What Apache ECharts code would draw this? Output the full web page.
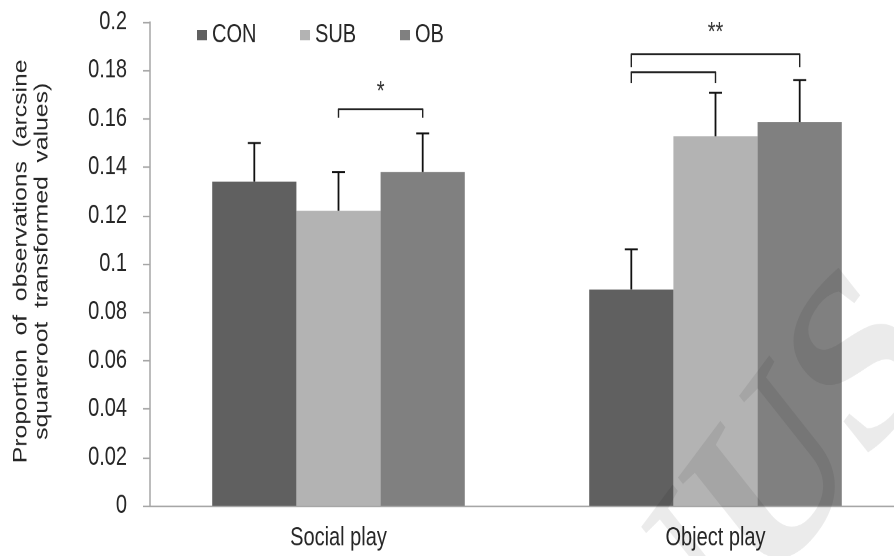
<!DOCTYPE html>
<html>
<head>
<meta charset="utf-8">
<script src="https://cdn.jsdelivr.net/npm/echarts@6/dist/echarts.min.js"></script>
<style>
html,body{margin:0;padding:0;background:#fff;overflow:hidden}
#wrap{width:894px;height:556px;overflow:hidden}
#c{width:894px;height:428px;transform:scaleY(1.3);transform-origin:0 0}
</style>
</head>
<body>
<div id="wrap"><div id="c"></div></div>
<script>
var categories = ['Social play', 'Object play'];
var seriesNames = ['CON', 'SUB', 'OB'];
var conValues = [0.134, 0.0894];
var subValues = [0.122, 0.1528];
var obValues = [0.138, 0.1586];
var conErrors = [0.016, 0.0166];
var subErrors = [0.016, 0.018];
var obErrors = [0.016, 0.0174];
var yTicks = [0, 0.02, 0.04, 0.06, 0.08, 0.1, 0.12, 0.14, 0.16, 0.18, 0.2];
var yTickLabels = ['0', '0.02', '0.04', '0.06', '0.08', '0.1', '0.12', '0.14', '0.16', '0.18', '0.2'];
var yAxisTitle = 'Proportion  of  observations  (arcsine\nsquareroot  transformed  values)';
// brackets: [categoryIndex, fromSeries, toSeries, top, bottom]
var brackets = [[0, 1, 2, 0.164, 0.1605], [1, 0, 2, 0.1867, 0.1814], [1, 0, 1, 0.1793, 0.1747]];
// significance marks: [categoryIndex, centerSeries, y, text]
var sigMarks = [[0, 1.5, 0.171, '*'], [1, 1, 0.1955, '**']];

var colors = ['#606060', '#b3b3b3', '#808080'];
var valueSets = [conValues, subValues, obValues];
var errorSets = [conErrors, subErrors, obErrors];
var GAP = 0.33;
var FONT = '"Liberation Sans", Arial, sans-serif';
var legendLefts = [192, 295, 395];

function barOffset(api, s) {
  var band = api.size([1, 0])[0];
  var bw = band * (1 - GAP) / 3;
  return (s - 1) * bw;
}

var errData = [];
for (var s = 0; s < 3; s++) {
  for (var c = 0; c < categories.length; c++) {
    errData.push([c, s, valueSets[s][c], errorSets[s][c]]);
  }
}

var barSeries = seriesNames.map(function (n, i) {
  return {
    name: n, type: 'bar', data: valueSets[i], barGap: '0%', barCategoryGap: '33%',
    itemStyle: { color: colors[i] }, z: 2
  };
});

var legends = seriesNames.map(function (n, i) {
  return {
    data: [n], left: legendLefts[i], top: 12, icon: 'rect', itemWidth: 10, itemHeight: 8,
    textStyle: { fontSize: 20, fontFamily: FONT, color: '#262626' }
  };
});

var chart = echarts.init(document.getElementById('c'), null, { devicePixelRatio: 2 });
chart.setOption({
  animation: false,
  textStyle: { fontFamily: FONT },
  grid: { left: 150, top: 17, width: 754, bottom: 39, containLabel: false, outerBoundsMode: 'none' },
  legend: legends,
  graphic: [{
    type: 'text', left: 562, top: 178, rotation: 0.8, z: 100, silent: true,
    style: { text: 'NUS', font: 'bold 195px "Liberation Serif", serif', fill: 'rgba(0,0,0,0.08)' }
  }, {
    type: 'text', x: 32, y: 201, rotation: Math.PI / 2, silent: true,
    style: {
      text: yAxisTitle, font: '19px ' + FONT, fill: '#262626',
      textAlign: 'center', textVerticalAlign: 'middle', lineHeight: 21
    }
  }],
  xAxis: {
    type: 'category', data: categories,
    axisLine: { lineStyle: { color: '#a6a6a6', width: 1.2 } },
    axisTick: { show: false },
    axisLabel: { fontSize: 20, fontFamily: FONT, color: '#262626', margin: 15 }
  },
  yAxis: {
    type: 'value', min: yTicks[0], max: yTicks[yTicks.length - 1], interval: 0.02,
    axisLine: { show: true, lineStyle: { color: '#a6a6a6', width: 1.5 } },
    axisTick: { show: true, inside: false, length: 7, lineStyle: { color: '#a6a6a6', width: 1.2 } },
    splitLine: { show: false },
    axisLabel: {
      fontSize: 20, fontFamily: FONT, color: '#262626', margin: 23,
      formatter: function (v) {
        var i = yTicks.findIndex(function (t) { return Math.abs(t - v) < 1e-9; });
        return i >= 0 ? yTickLabels[i] : '';
      }
    }
  },
  series: barSeries.concat([
    {
      type: 'custom', z: 5, clip: false, silent: true,
      data: errData,
      renderItem: function (params, api) {
        var c = api.value(0), s = api.value(1), v = api.value(2), e = api.value(3);
        var p0 = api.coord([c, v]);
        var p1 = api.coord([c, v + e]);
        var x = p0[0] + barOffset(api, s);
        return {
          type: 'group', children: [
            { type: 'line', shape: { x1: x, y1: p0[1], x2: x, y2: p1[1] }, style: { stroke: '#111', lineWidth: 1.8 } },
            { type: 'line', shape: { x1: x - 6.5, y1: p1[1], x2: x + 6.5, y2: p1[1] }, style: { stroke: '#111', lineWidth: 1.5 } }
          ]
        };
      }
    },
    {
      type: 'custom', z: 5, clip: false, silent: true,
      data: brackets,
      renderItem: function (params, api) {
        var c = api.value(0), a = api.value(1), b = api.value(2), top = api.value(3), bot = api.value(4);
        var pt = api.coord([c, top]);
        var pb = api.coord([c, bot]);
        var xa = pt[0] + barOffset(api, a);
        var xb = pt[0] + barOffset(api, b);
        return {
          type: 'polyline',
          shape: { points: [[xa, pb[1]], [xa, pt[1]], [xb, pt[1]], [xb, pb[1]]] },
          style: { stroke: '#222', lineWidth: 1.4, fill: null, lineJoin: 'round' }
        };
      }
    },
    {
      type: 'custom', z: 5, clip: false, silent: true,
      data: sigMarks,
      renderItem: function (params, api) {
        var c = api.value(0), s = api.value(1), y = api.value(2);
        var p = api.coord([c, y]);
        var m = sigMarks[params.dataIndex];
        return {
          type: 'text',
          style: {
            text: m[3], x: p[0] + barOffset(api, s), y: p[1],
            textAlign: 'center', textVerticalAlign: 'middle',
            font: '20px ' + FONT, fill: '#333'
          }
        };
      }
    }
  ])
});
</script>
</body>
</html>
